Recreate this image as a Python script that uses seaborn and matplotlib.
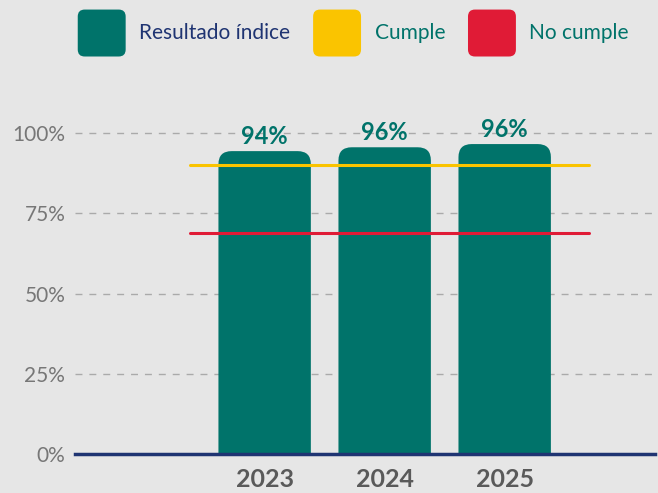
import matplotlib
matplotlib.use("Agg")
import matplotlib.pyplot as plt
import seaborn as sns
import pandas as pd
from matplotlib.patches import FancyBboxPatch, Patch
from matplotlib.legend_handler import HandlerPatch

years = ["2023", "2024", "2025"]
values = [94, 96, 96]
bar_tops = [94.4, 95.6, 96.6]
cumple = 90
no_cumple = 69
yticks = [0, 25, 50, 75, 100]

TEAL = "#00736A"
YELLOW = "#FAC400"
RED = "#E01B36"
NAVY = "#1F3472"
BG = "#E6E6E6"

sns.set_theme(style="white")
plt.rcParams["font.family"] = ["Lato", "DejaVu Sans"]

fig = plt.figure(figsize=(6.58, 4.93), dpi=100, facecolor=BG)
ax = fig.add_axes([0.114, 0.079, 0.881, 0.716])
ax.set_facecolor(BG)

df = pd.DataFrame({"year": years, "value": bar_tops})
sns.barplot(data=df, x="year", y="value", color=TEAL, width=0.77, ax=ax,
            saturation=1, zorder=2)

# replace bars with rounded-top versions
for p in list(ax.patches):
    x, w, h = p.get_x(), p.get_width(), p.get_height()
    p.set_visible(False)
    rb = FancyBboxPatch((x, -20), w, h + 20,
                        boxstyle="round,pad=0,rounding_size=0.11",
                        mutation_aspect=37, facecolor=TEAL, edgecolor="none",
                        zorder=2)
    ax.add_patch(rb)

for i, v in enumerate(values):
    ax.text(i, bar_tops[i] + 1.0, f"{v}%", ha="center", va="bottom",
            fontsize=17, fontweight="bold", fontstyle="normal", color=TEAL,
            zorder=4)

ax.plot([-0.62, 2.7], [cumple, cumple], color=YELLOW, lw=2.2, zorder=3)
ax.plot([-0.62, 2.7], [no_cumple, no_cumple], color=RED, lw=2.2, zorder=3)

ax.set_xlim(-1.58, 3.25)
ax.set_ylim(0, 110)
ax.set_yticks(yticks)
ax.set_yticklabels([f"{t}%" for t in yticks], fontsize=15, color="#777777")
for t in yticks[1:]:
    ax.axhline(t, color="#AAAAAA", lw=1, ls=(0, (5, 5)), zorder=1)
ax.tick_params(axis="y", length=0, pad=7)
ax.tick_params(axis="x", length=0, pad=10)
for lbl in ax.get_xticklabels():
    lbl.set_fontsize(18)
    lbl.set_fontweight("bold")
    lbl.set_fontstyle("normal")
    lbl.set_color("#5A5A5A")
ax.set_xlabel("")
ax.set_ylabel("")
for s in ["top", "right", "left"]:
    ax.spines[s].set_visible(False)
ax.spines["bottom"].set_color(NAVY)
ax.spines["bottom"].set_linewidth(2.5)
ax.spines["bottom"].set_zorder(5)


class HandlerRound(HandlerPatch):
    def create_artists(self, legend, orig_handle, xdescent, ydescent,
                       width, height, fontsize, trans):
        p = FancyBboxPatch((-xdescent, -ydescent), width, height,
                           boxstyle="round,pad=0,rounding_size=5",
                           facecolor=orig_handle.get_facecolor(),
                           edgecolor="none", transform=trans)
        return [p]


handles = [Patch(facecolor=TEAL), Patch(facecolor=YELLOW), Patch(facecolor=RED)]
labels = ["Resultado índice", "Cumple", "No cumple"]
leg = fig.legend(handles, labels, loc="center", bbox_to_anchor=(0.537, 0.933),
                 ncol=3, frameon=False, handlelength=2.3,
                 handleheight=3.09, handletextpad=0.65, columnspacing=1.1,
                 prop={"size": 15},
                 handler_map={Patch: HandlerRound()})
for txt, c in zip(leg.get_texts(), [NAVY, TEAL, TEAL]):
    txt.set_color(c)

fig.savefig("out.png", dpi=100, facecolor=BG)
